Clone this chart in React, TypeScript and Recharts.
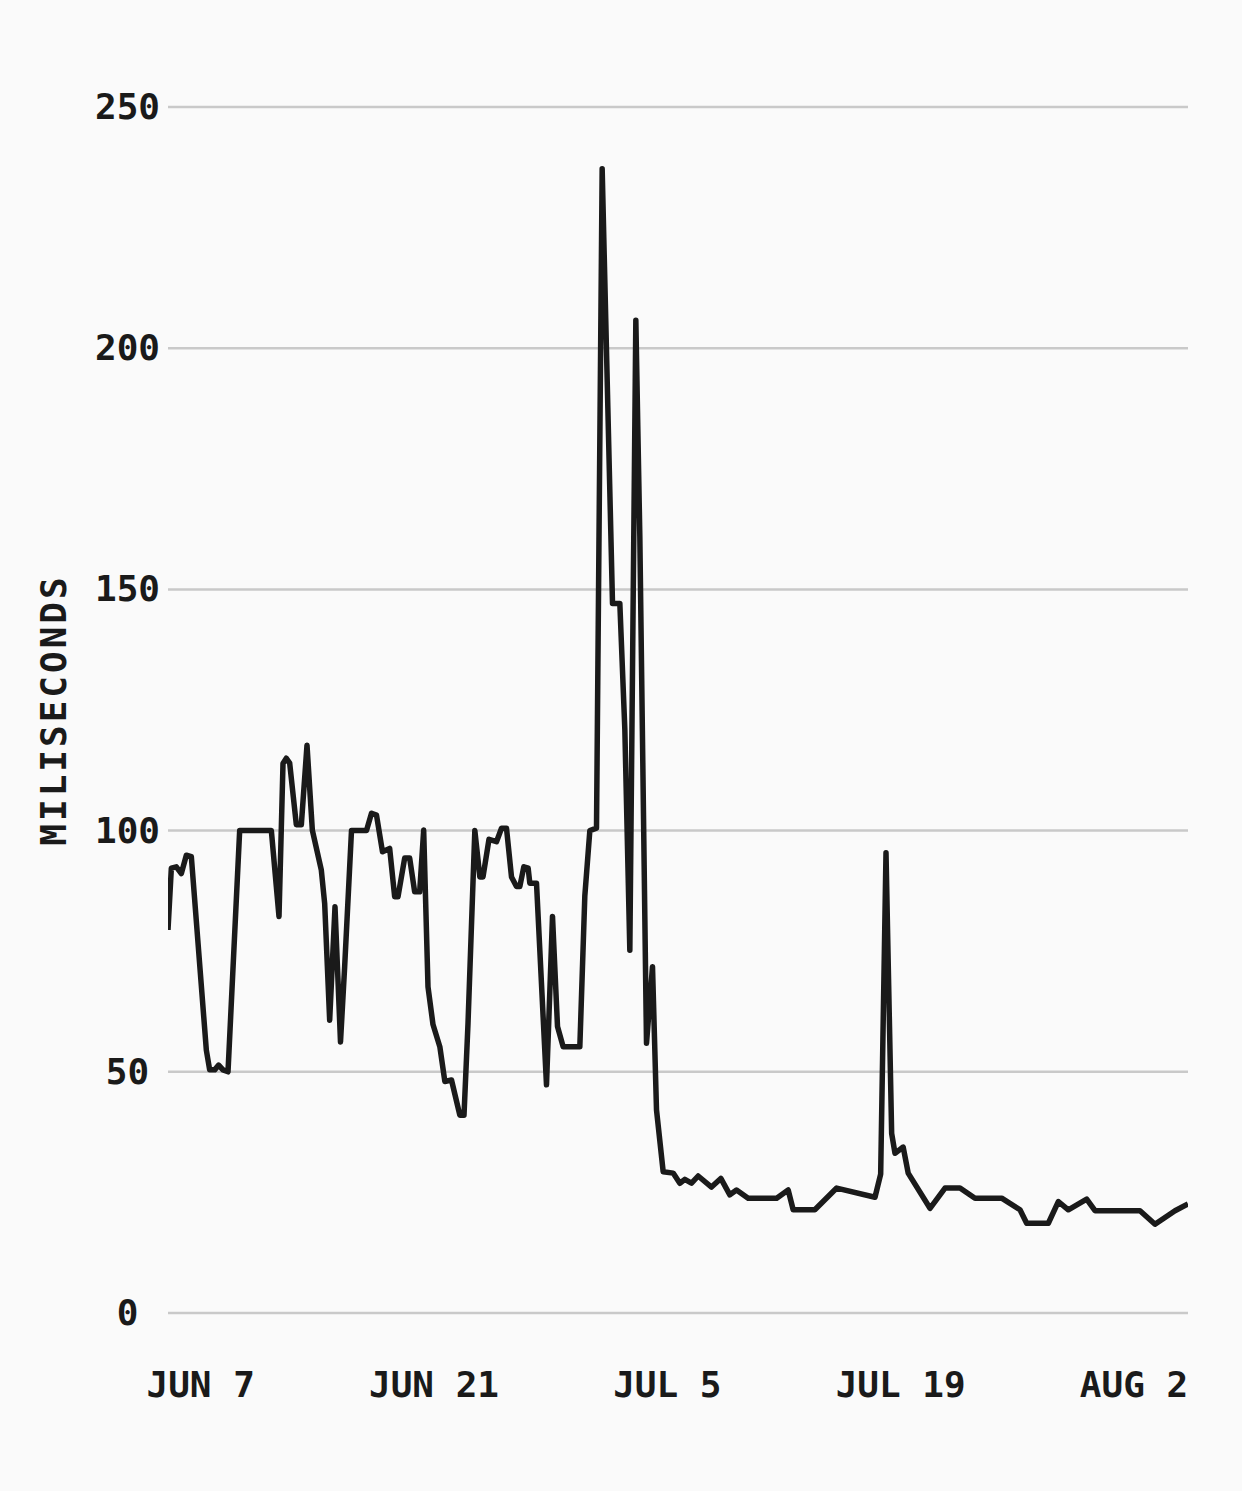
import React from 'react';
import { LineChart, Line, XAxis, YAxis, CartesianGrid } from 'recharts';

// day number: Jun 1 = 1, Jul 1 = 31, Aug 1 = 62
const days = [
  5.04, 5.24, 5.54, 5.84, 6.14, 6.44, 7.34, 7.54, 7.84, 8.08, 8.34, 8.64,
  9.34, 9.54, 11.24, 11.7, 11.94, 12.14, 12.34, 12.74, 13.04, 13.38, 13.7,
  14.24, 14.44, 14.74, 15.06, 15.39, 15.64, 16.05, 16.95, 17.25, 17.55, 17.91,
  18.34, 18.64, 18.84, 19.24, 19.54, 19.84, 20.14, 20.38, 20.64, 20.94, 21.35,
  21.65, 22.05, 22.55, 22.8, 23.04, 23.45, 23.75, 23.94, 24.3, 24.75, 25.05,
  25.35, 25.65, 25.95, 26.15, 26.39, 26.65, 26.75, 27.15, 27.75, 28.11, 28.41,
  28.75, 29.75, 30.05, 30.35, 30.75, 31.09, 31.71, 32.15, 32.45, 32.75, 33.11,
  33.35, 33.75, 34.11, 34.35, 34.75, 35.35, 35.75, 36.05, 36.45, 36.85, 37.65,
  38.21, 38.75, 39.15, 39.85, 41.56, 42.25, 42.55, 43.85, 45.16, 47.46, 47.8,
  48.12, 48.46, 48.66, 49.15, 49.45, 50.76, 51.66, 52.56, 53.46, 55.06, 56.16,
  56.56, 57.86, 58.46, 59.06, 60.16, 60.66, 63.36, 64.26, 65.46, 66.24,
];

const latencyMs = [
  79.4, 92.2, 92.5, 91.1, 94.9, 94.6, 54.5, 50.4, 50.4, 51.4, 50.4, 50.0,
  100, 100, 100, 82.2, 113.9, 115, 114, 101.2, 101.2, 117.7, 100.1,
  91.8, 84.9, 60.7, 84.2, 56.2, 71.8, 100, 100, 103.6, 103.2, 95.6,
  96.3, 86.3, 86.3, 94.3, 94.3, 87.3, 87.3, 100.1, 67.6, 59.8, 55.2,
  48.0, 48.3, 41.0, 41.0, 60, 100, 90.4, 90.4, 98.2, 97.7, 100.5,
  100.5, 90.4, 88.4, 88.4, 92.5, 92.2, 89.1, 89.1, 47.3, 82.2, 59.4,
  55.2, 55.2, 86.5, 100, 100.5, 237.2, 147.1, 147.1, 121, 75.2, 205.8,
  160.9, 55.9, 71.8, 42.1, 29.3, 29.0, 26.9, 27.7, 26.9, 28.4, 26.1,
  27.9, 24.5, 25.5, 23.8, 23.8, 25.5, 21.4, 21.4, 25.9, 24.0, 28.8,
  95.4, 37.2, 33.1, 34.4, 29.0, 21.7, 25.9, 25.9, 23.8, 23.8, 21.4,
  18.6, 18.6, 23.1, 21.4, 23.6, 21.2, 21.2, 18.4, 21.2, 22.6,
];

const xTicks = [7, 21, 35, 49, 63];
const xTickLabels = ['JUN 7', 'JUN 21', 'JUL 5', 'JUL 19', 'AUG 2'];
const yTicks = [0, 50, 100, 150, 200, 250];

const data = days.map((d, i) => ({ day: d, ms: latencyMs[i] }));

const FONT = '"DejaVu Sans Mono", monospace';
const INK = '#1a1a1a';

const XTick = (props: any) => {
  const { x, y, payload } = props;
  const idx = xTicks.indexOf(payload.value);
  return (
    <text x={x} y={y + 76} textAnchor="middle" fontFamily={FONT} fontSize={36} fontWeight="bold" fill={INK}>
      {idx >= 0 ? xTickLabels[idx] : ''}
    </text>
  );
};

const YTick = (props: any) => {
  const { y, payload } = props;
  return (
    <text x={127.5} y={y} dy={12} textAnchor="middle" fontFamily={FONT} fontSize={36} fontWeight="bold" fill={INK}>
      {payload.value}
    </text>
  );
};

const YLabel = (props: any) => {
  const vb = props.viewBox || { x: 0, y: 107, width: 168, height: 1206 };
  const cx = vb.x + 66;
  const cy = vb.y + vb.height / 2;
  return (
    <text
      x={cx}
      y={cy}
      transform={`rotate(-90, ${cx}, ${cy})`}
      textAnchor="middle"
      fontFamily={FONT}
      fontSize={36}
      fontWeight="bold"
      letterSpacing={3}
      fill={INK}
    >
      MILISECONDS
    </text>
  );
};

export default function App() {
  return (
    <div
      style={{
        position: 'absolute',
        left: 0,
        top: 0,
        width: 1242,
        height: 1491,
        background: '#fafafa',
        overflow: 'hidden',
      }}
    >
      <LineChart
        width={1242}
        height={1491}
        data={data}
        margin={{ top: 107, right: 54, bottom: 0, left: 0 }}
      >
        <CartesianGrid horizontal vertical={false} stroke="#c9c9c9" strokeWidth={2.5} />
        <XAxis
          dataKey="day"
          type="number"
          domain={[5.04, 66.24]}
          allowDataOverflow
          ticks={xTicks}
          tick={<XTick />}
          axisLine={false}
          tickLine={false}
          height={178}
          interval={0}
        />
        <YAxis
          type="number"
          domain={[0, 250]}
          ticks={yTicks}
          tick={<YTick />}
          axisLine={false}
          tickLine={false}
          width={168}
          interval={0}
          label={<YLabel />}
        />
        <Line
          type="linear"
          dataKey="ms"
          stroke={INK}
          strokeWidth={5.5}
          strokeLinejoin="round"
          dot={false}
          activeDot={false}
          isAnimationActive={false}
        />
      </LineChart>
    </div>
  );
}
